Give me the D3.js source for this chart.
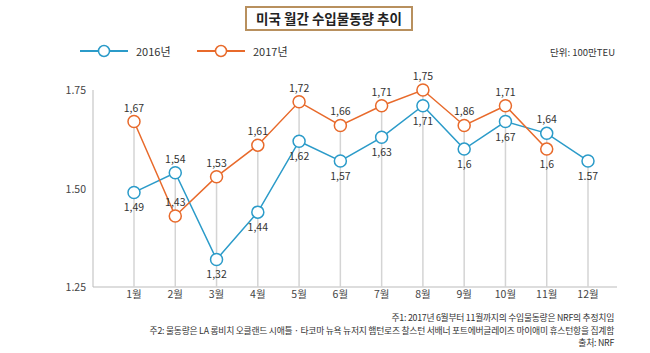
<!DOCTYPE html>
<html>
<head>
<meta charset="utf-8">
<script src="https://cdn.jsdelivr.net/npm/d3@7"></script>
<style>
  body { margin: 0; background: #fff; }
  svg text { font-family: "Noto Sans CJK KR", "Noto Sans", sans-serif; }
</style>
</head>
<body>
<div id="chart"></div>
<script>
// 미국 월간 수입물동량 추이 (단위: 100만TEU)
const months = ["1월", "2월", "3월", "4월", "5월", "6월", "7월", "8월", "9월", "10월", "11월", "12월"];
const yTicks = [1.25, 1.5, 1.75];
const yTickLabels = ["1.25", "1.50", "1.75"];

const values2016 = [1.49, 1.54, 1.32, 1.44, 1.62, 1.57, 1.63, 1.71, 1.6, 1.67, 1.64, 1.57];
const labels2016 = ["1,49", "1,54", "1,32", "1,44", "1,62", "1,57", "1,63", "1,71", "1,6", "1,67", "1,64", "1.57"];
const above2016 = [false, true, false, false, false, false, false, false, false, false, true, false];

const values2017 = [1.67, 1.43, 1.53, 1.61, 1.72, 1.66, 1.71, 1.75, 1.66, 1.71, 1.6];
const labels2017 = ["1,67", "1,43", "1,53", "1,61", "1,72", "1,66", "1,71", "1,75", "1,86", "1,71", "1,6"];
const above2017 = [true, true, true, true, true, true, true, true, true, true, false];

const notes = [
  "주1: 2017년 6월부터 11월까지의 수입물동량은 NRF의 추정치임",
  "주2: 물동량은 LA 롱비치 오클랜드 시애틀 · 타코마 뉴욕 뉴저지 햄턴로즈 찰스턴 서배너 포트에버글레이즈 마이애미 휴스턴항을 집계함",
  "출처: NRF"
];

const W = 650, H = 353;
const blue = "#2b9bc9", orange = "#e86a2b";

const svg = d3.select("#chart").append("svg").attr("width", W).attr("height", H);

// title box
svg.append("rect")
  .attr("x", 246).attr("y", 7).attr("width", 166).attr("height", 23)
  .attr("fill", "#fff").attr("stroke", "#b8905e").attr("stroke-width", 2);
svg.append("text")
  .attr("x", 329).attr("y", 23.5).attr("text-anchor", "middle")
  .attr("font-size", 13.5).attr("font-weight", "bold").attr("fill", "#222")
  .text("미국 월간 수입물동량 추이");

// legend
const legend = [
  { name: "2016년", color: blue, x: 80 },
  { name: "2017년", color: orange, x: 197 }
];
legend.forEach((d) => {
  const g = svg.append("g").attr("transform", `translate(${d.x},51)`);
  g.append("line").attr("x1", 0).attr("x2", 48).attr("stroke", d.color).attr("stroke-width", 2);
  g.append("circle").attr("cx", 24).attr("r", 5.5).attr("fill", "#fff").attr("stroke", d.color).attr("stroke-width", 1.5);
  g.append("text").attr("x", 56).attr("y", 4.5).attr("font-size", 11).attr("fill", "#333").text(d.name);
});
svg.append("text")
  .attr("x", 615).attr("y", 56).attr("text-anchor", "end")
  .attr("font-size", 9.5).attr("fill", "#333").text("단위: 100만TEU");

// scales
const x = d3.scalePoint().domain(months).range([134, 588]);
const y = d3.scaleLinear().domain([1.25, 1.75]).range([287, 90]);

// axes lines
svg.append("line").attr("x1", 93).attr("x2", 93).attr("y1", 90).attr("y2", 287)
  .attr("stroke", "#bbb").attr("stroke-width", 1);
svg.append("line").attr("x1", 93).attr("x2", 617).attr("y1", y(1.25)).attr("y2", y(1.25))
  .attr("stroke", "#bbb").attr("stroke-width", 1.2);

svg.selectAll(".ytick").data(yTicks).enter().append("text")
  .attr("x", 86).attr("y", (d) => y(d) + 4).attr("text-anchor", "end")
  .attr("font-size", 10.5).attr("fill", "#444")
  .text((d, i) => yTickLabels[i]);

svg.selectAll(".xtick").data(months).enter().append("text")
  .attr("x", (d) => x(d)).attr("y", 298).attr("text-anchor", "middle")
  .attr("font-size", 10.5).attr("fill", "#444").text((d) => d);

// vertical drop lines from highest point of each month
svg.selectAll(".drop").data(months).enter().append("line")
  .attr("x1", (d) => x(d)).attr("x2", (d) => x(d))
  .attr("y1", (d, i) => y(d3.max([values2016[i], values2017[i]].filter((v) => v != null))))
  .attr("y2", y(1.25))
  .attr("stroke", "#d4d4d4").attr("stroke-width", 1.5);

function drawSeries(values, labels, above, color) {
  const pts = values.map((v, i) => ({ m: months[i], v, label: labels[i], up: above[i] }));
  svg.append("path").datum(pts)
    .attr("fill", "none").attr("stroke", color).attr("stroke-width", 1.5)
    .attr("d", d3.line().x((d) => x(d.m)).y((d) => y(d.v)));
  svg.selectAll(null).data(pts).enter().append("circle")
    .attr("cx", (d) => x(d.m)).attr("cy", (d) => y(d.v)).attr("r", 6)
    .attr("fill", "#fff").attr("stroke", color).attr("stroke-width", 1.5);
  svg.selectAll(null).data(pts).enter().append("text")
    .attr("x", (d) => x(d.m))
    .attr("y", (d) => (d.up ? y(d.v) - 10 : y(d.v) + 19))
    .attr("text-anchor", "middle").attr("font-size", 10.5).attr("fill", "#333")
    .text((d) => d.label);
}
drawSeries(values2016, labels2016, above2016, blue);
drawSeries(values2017, labels2017, above2017, orange);

// notes
svg.selectAll(".note").data(notes).enter().append("text")
  .attr("x", 614).attr("y", (d, i) => 321 + i * 12.5).attr("text-anchor", "end")
  .attr("font-size", 8.8).attr("letter-spacing", -0.25).attr("fill", "#333").text((d) => d);
</script>
</body>
</html>
